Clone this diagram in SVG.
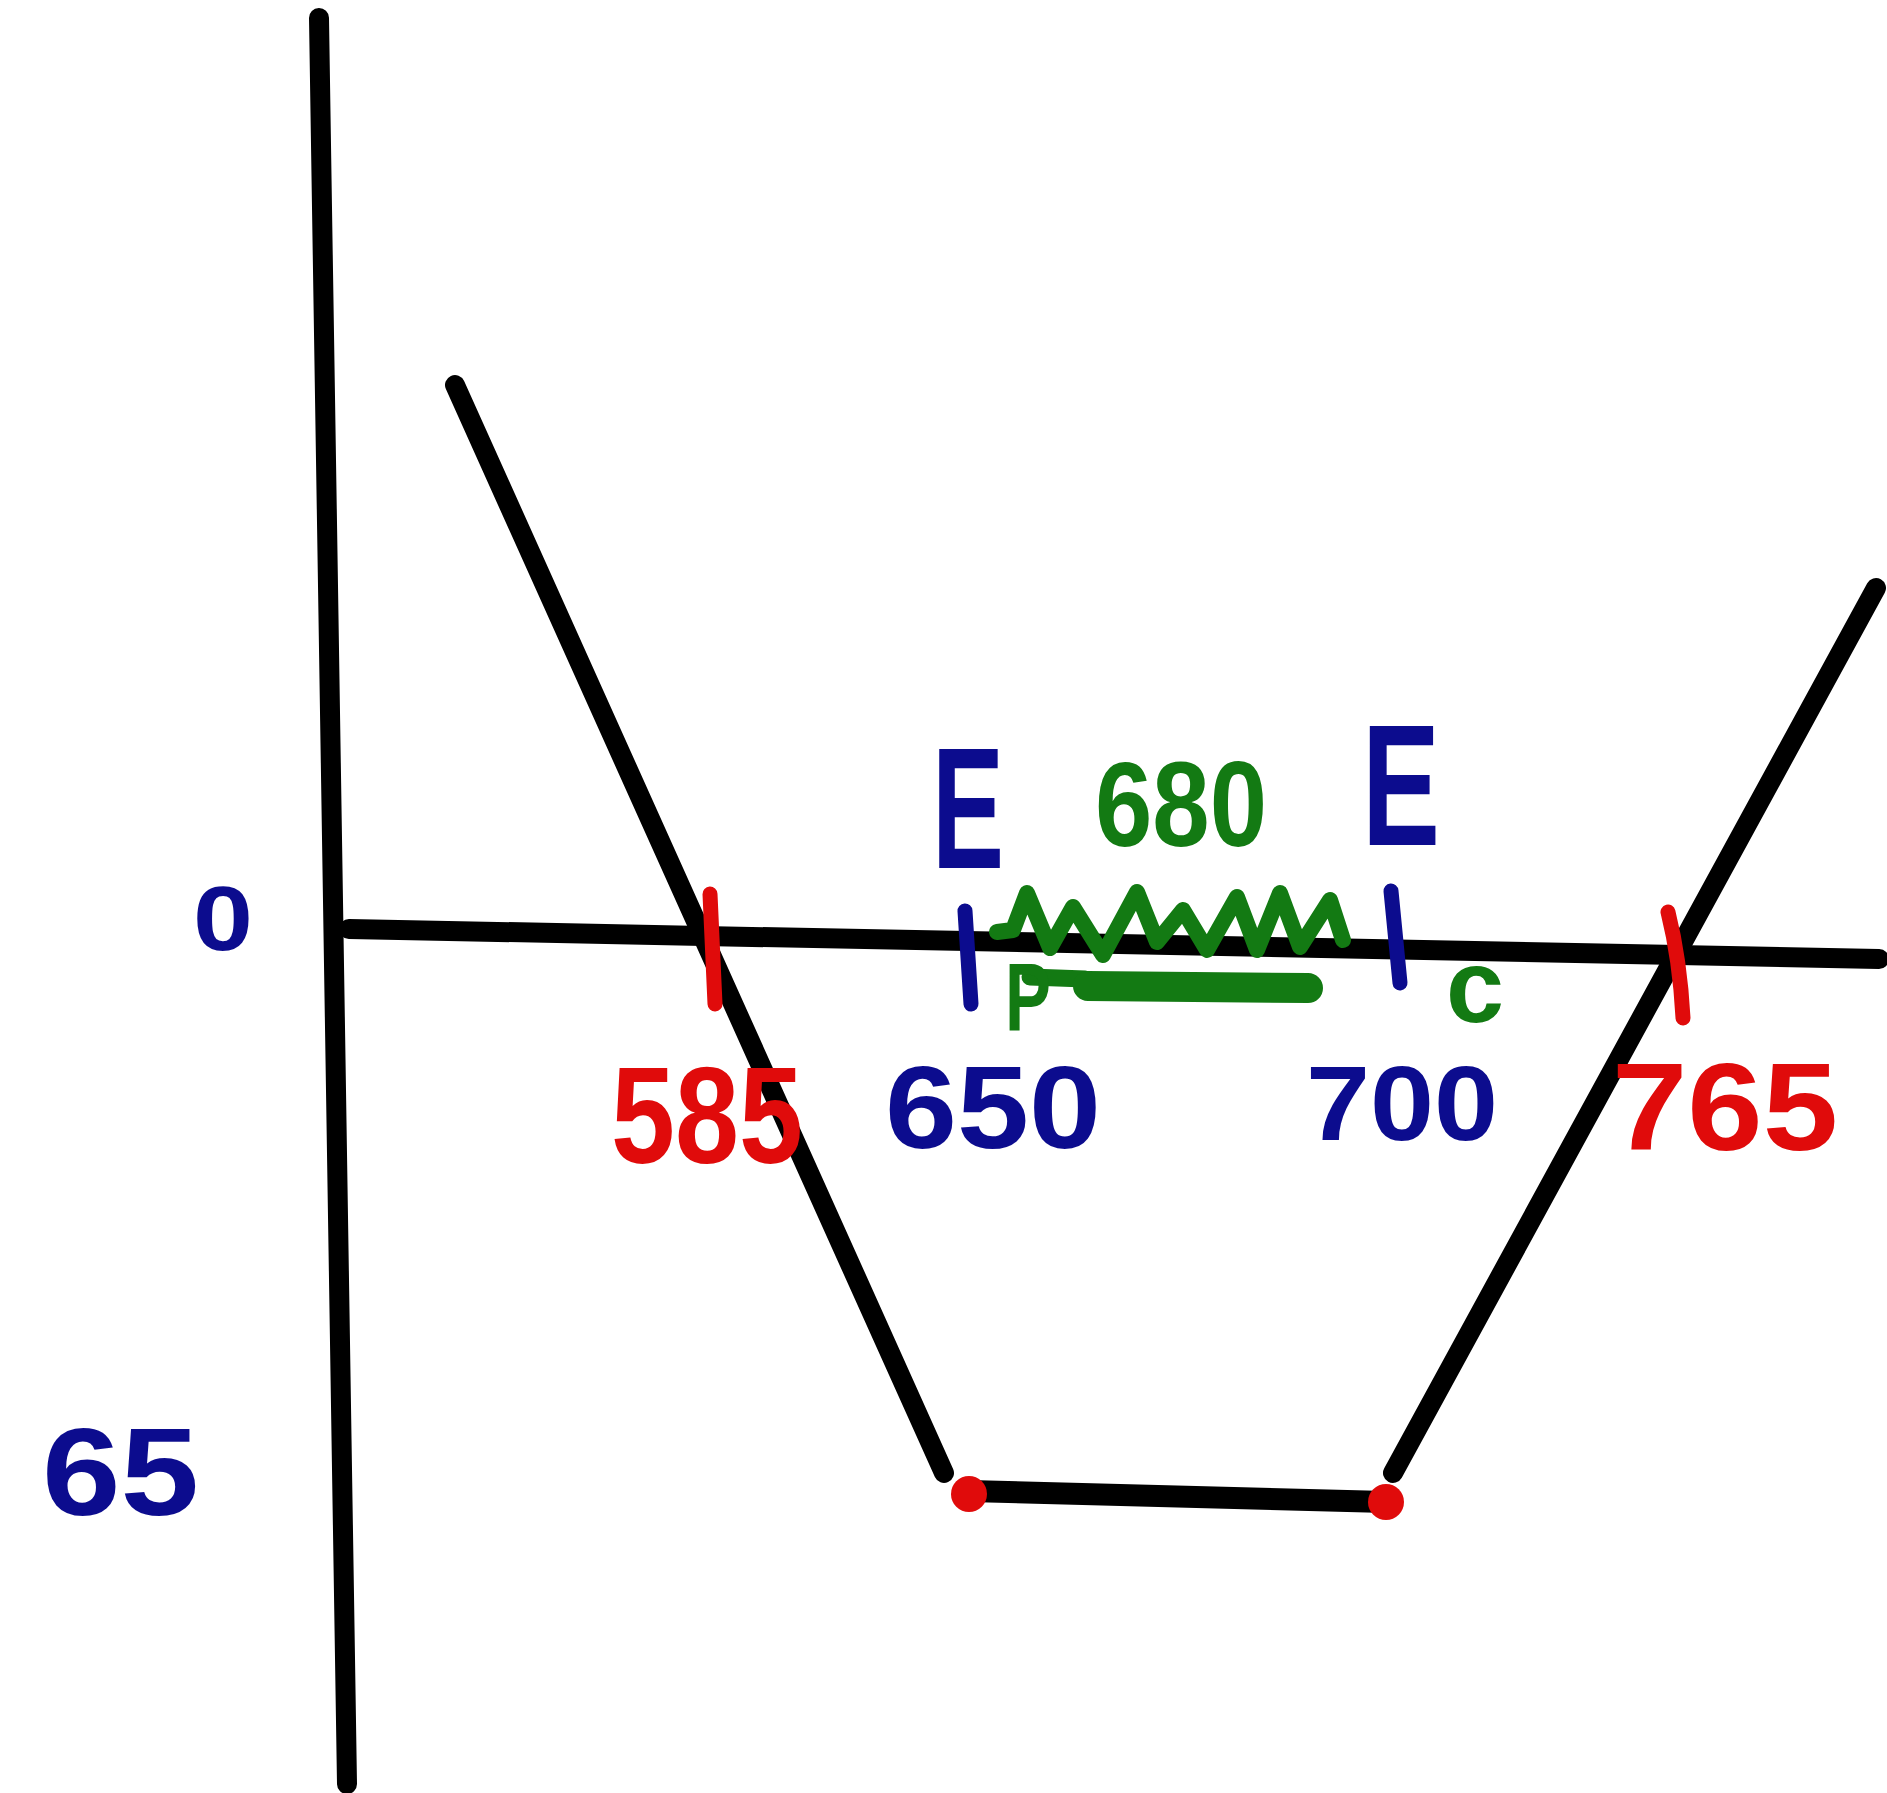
<svg xmlns="http://www.w3.org/2000/svg" width="1887" height="1793" viewBox="0 0 1887 1793">
  <style>
    .blk { stroke: #000; stroke-width: 20; stroke-linecap: round; stroke-linejoin: round; fill: none; }
    .red { stroke: #e00b0b; stroke-width: 15; stroke-linecap: round; fill: none; }
    .blu { stroke: #0c0c8e; stroke-width: 15; stroke-linecap: round; fill: none; }
    .grn { stroke: #137a13; stroke-width: 16; stroke-linecap: round; stroke-linejoin: round; fill: none; }
    text { font-family: "Liberation Sans", "DejaVu Sans", sans-serif; font-weight: bold; }
    .tb { fill: #0c0c8e; }
    .tr { fill: #e00b0b; }
    .tg { fill: #137a13; }
  </style>
  <rect width="1887" height="1793" fill="#fff"/>

  <g id="axes">
    <line class="blk" x1="319" y1="18" x2="347" y2="1784"/>
    <line class="blk" x1="349" y1="929" x2="1879" y2="959"/>
  </g>

  <g id="channel">
    <line class="blk" x1="455" y1="385" x2="944" y2="1473"/>
    <line class="blk" x1="1393" y1="1473" x2="1876" y2="588"/>
    <line class="blk" x1="969" y1="1491" x2="1386" y2="1502" style="stroke-width:22"/>
    <circle cx="969" cy="1494" r="18" fill="#e00b0b"/>
    <circle cx="1386" cy="1502" r="18" fill="#e00b0b"/>
  </g>

  <g id="ticks">
    <line class="red" x1="710" y1="894" x2="715" y2="1004"/>
    <path class="red" d="M1668 912 Q1680 960 1683 1018"/>
    <line class="blu" x1="965" y1="911" x2="971" y2="1004"/>
    <line class="blu" x1="1391" y1="891" x2="1400" y2="983"/>
  </g>

  <g id="zone">
    <polyline class="grn" points="997,932 1013,930 1027,893 1050,948 1073,907 1103,955 1137,892 1157,942 1183,910 1207,950 1237,897 1257,950 1280,893 1300,947 1330,900 1343,940"/>
    <line class="grn" x1="1030" y1="977" x2="1085" y2="979" style="stroke-width:17"/>
    <line class="grn" x1="1088" y1="986" x2="1308" y2="988" style="stroke-width:30"/>
  </g>

  <g id="labels">
    <text class="tb" x="193" y="950" font-size="90" textLength="60" lengthAdjust="spacingAndGlyphs">0</text>
    <text class="tb" x="42" y="1515" font-size="124" textLength="157" lengthAdjust="spacingAndGlyphs">65</text>
    <text class="tr" x="611" y="1163" font-size="138" textLength="192" lengthAdjust="spacingAndGlyphs">585</text>
    <text class="tb" x="885" y="1148" font-size="117" textLength="216" lengthAdjust="spacingAndGlyphs">650</text>
    <text class="tb" x="1306" y="1140" font-size="106" textLength="192" lengthAdjust="spacingAndGlyphs">700</text>
    <text class="tr" x="1612" y="1150" font-size="124" textLength="226" lengthAdjust="spacingAndGlyphs">765</text>
    <text class="tg" x="1095" y="846" font-size="120" textLength="172" lengthAdjust="spacingAndGlyphs">680</text>
    <text class="tb" x="932" y="868" font-size="172" textLength="72" lengthAdjust="spacingAndGlyphs">E</text>
    <text class="tb" x="1362" y="845" font-size="172" textLength="78" lengthAdjust="spacingAndGlyphs">E</text>
    <text class="tg" x="1005" y="1030" font-size="96" textLength="46" lengthAdjust="spacingAndGlyphs">P</text>
    <text class="tg" x="1446" y="1022" font-size="104" textLength="58" lengthAdjust="spacingAndGlyphs">c</text>
  </g>
</svg>
